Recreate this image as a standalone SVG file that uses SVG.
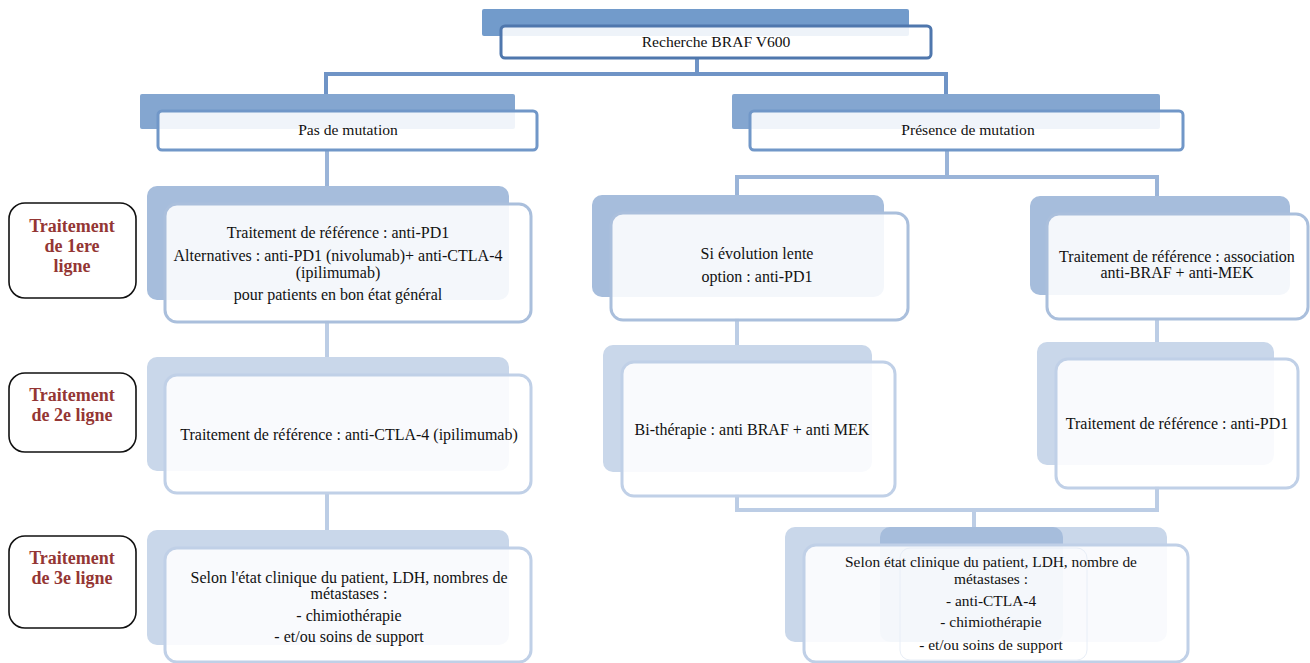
<svg xmlns="http://www.w3.org/2000/svg" width="1310" height="663" viewBox="0 0 1310 663">
<style>
text{font-family:"Liberation Serif","Times New Roman",serif;fill:#111;text-anchor:middle}
.h{font-size:15.6px}
.t{font-size:16px}
.s{font-size:15.4px}
.lab{font-size:18px;font-weight:bold;fill:#943634}
.labbox{fill:#fff;stroke:#111;stroke-width:1.6}
.front{fill:#fff;fill-opacity:0.88;stroke-width:3}
.c1{fill:none;stroke:#6f94c6;stroke-width:4}
.c2{fill:none;stroke:#9ab4d8;stroke-width:4}
.c3{fill:none;stroke:#bccde5;stroke-width:4}
</style>
<rect width="1310" height="663" fill="#fff"/>
<g id="connectors">
<polyline class="c1" points="697,58 697,74 326,74 326,96"/>
<polyline class="c1" points="697,74 946,74 946,96"/>
<polyline class="c2" points="327,150 327,188"/>
<polyline class="c2" points="947,150 947,177 737,177 737,197"/>
<polyline class="c2" points="947,177 1157,177 1157,198"/>
<line class="c3" x1="327" y1="320" x2="327" y2="358"/>
<line class="c3" x1="327" y1="492" x2="327" y2="532"/>
<line class="c3" x1="737" y1="318" x2="737" y2="347"/>
<line class="c3" x1="1157" y1="318" x2="1157" y2="344"/>
<polyline class="c3" points="737,494 737,510 1157,510 1157,486"/>
<line class="c3" x1="974" y1="510" x2="974" y2="529"/>
</g>
<g id="n-braf">
<rect x="482" y="9" width="427" height="27" rx="2" fill="#729bcb"/>
<rect class="front" x="501" y="26" width="430" height="32" rx="4" stroke="#4f77ad"/>
<text class="h" x="716" y="47">Recherche BRAF V600</text>
</g>
<g id="n-pas">
<rect x="140" y="94" width="375" height="35" rx="2" fill="#84a6d0"/>
<rect class="front" x="158" y="111" width="379" height="39" rx="4" stroke="#7197c8"/>
<text class="h" x="348" y="135">Pas de mutation</text>
</g>
<g id="n-pres">
<rect x="732" y="94" width="428" height="35" rx="2" fill="#84a6d0"/>
<rect class="front" x="750" y="111" width="433" height="39" rx="4" stroke="#7197c8"/>
<text class="h" x="968" y="135">Présence de mutation</text>
</g>
<g id="lab1">
<rect class="labbox" x="9" y="203" width="127" height="95" rx="16"/>
<text class="lab" x="72" y="232">Traitement</text>
<text class="lab" x="72" y="252">de 1ere</text>
<text class="lab" x="72" y="272">ligne</text>
</g>
<g id="lab2">
<rect class="labbox" x="9" y="373" width="127" height="79" rx="16"/>
<text class="lab" x="72" y="401">Traitement</text>
<text class="lab" x="72" y="421">de 2e ligne</text>
</g>
<g id="lab3">
<rect class="labbox" x="9" y="536" width="127" height="92" rx="16"/>
<text class="lab" x="72" y="564">Traitement</text>
<text class="lab" x="72" y="584">de 3e ligne</text>
</g>
<g id="n-l1">
<rect x="147" y="186" width="362" height="114" rx="10" fill="#a6bddc"/>
<rect class="front" x="165" y="204" width="366" height="118" rx="12" stroke="#aabfdc"/>
<text class="t" x="338" y="238">Traitement de référence : anti-PD1</text>
<text class="t" x="338" y="261">Alternatives : anti-PD1 (nivolumab)+ anti-CTLA-4</text>
<text class="t" x="338" y="278">(ipilimumab)</text>
<text class="t" x="338" y="300">pour patients en bon état général</text>
</g>
<g id="n-l2">
<rect x="147" y="357" width="362" height="114" rx="10" fill="#c9d7ea"/>
<rect class="front" x="165" y="375" width="366" height="118" rx="12" stroke="#c0d0e7"/>
<text class="t" x="349" y="440">Traitement de référence : anti-CTLA-4 (ipilimumab)</text>
</g>
<g id="n-l3">
<rect x="147" y="530" width="362" height="115" rx="10" fill="#c9d7ea"/>
<rect class="front" x="165" y="548" width="366" height="114" rx="12" stroke="#c0d0e7"/>
<text class="t" x="349" y="583">Selon l'état clinique du patient, LDH, nombres de</text>
<text class="t" x="349" y="599">métastases :</text>
<text class="t" x="349" y="621">- chimiothérapie</text>
<text class="t" x="349" y="642">- et/ou soins de support</text>
</g>
<g id="n-lente">
<rect x="592" y="195" width="292" height="102" rx="10" fill="#a6bddc"/>
<rect class="front" x="611" y="213" width="297" height="107" rx="12" stroke="#aabfdc"/>
<text class="t" x="757" y="259">Si évolution lente</text>
<text class="t" x="757" y="282">option : anti-PD1</text>
</g>
<g id="n-assoc">
<rect x="1030" y="196" width="260" height="99" rx="10" fill="#a6bddc"/>
<rect class="front" x="1047" y="214" width="261" height="105" rx="12" stroke="#aabfdc"/>
<text class="t" x="1177" y="262">Traitement de référence :  association</text>
<text class="t" x="1177" y="278">anti-BRAF + anti-MEK</text>
</g>
<g id="n-bi">
<rect x="603" y="345" width="269" height="127" rx="10" fill="#c9d7ea"/>
<rect class="front" x="622" y="362" width="273" height="134" rx="12" stroke="#c0d0e7"/>
<text class="t" x="752" y="435">Bi-thérapie : anti BRAF + anti MEK</text>
</g>
<g id="n-pd1">
<rect x="1037" y="342" width="237" height="123" rx="10" fill="#c9d7ea"/>
<rect class="front" x="1056" y="359" width="242" height="129" rx="12" stroke="#c0d0e7"/>
<text class="t" x="1177" y="429">Traitement de référence : anti-PD1</text>
</g>
<g id="n-br3">
<rect x="785" y="527" width="382" height="115" rx="10" fill="#c9d7ea"/>
<rect x="880" y="527" width="183" height="115" rx="10" fill="#a6bddc"/>
<rect class="front" x="804" y="545" width="384" height="117" rx="12" stroke="#c0d0e7"/>
<rect x="900" y="548" width="187" height="112" rx="10" fill="none" stroke="#e8eef7" stroke-width="1"/>
<text class="s" x="991" y="567">Selon état clinique du patient, LDH, nombre de</text>
<text class="s" x="991" y="584">métastases :</text>
<text class="s" x="991" y="606">- anti-CTLA-4</text>
<text class="s" x="991" y="627">- chimiothérapie</text>
<text class="s" x="991" y="650">- et/ou soins de support</text>
</g>
</svg>
